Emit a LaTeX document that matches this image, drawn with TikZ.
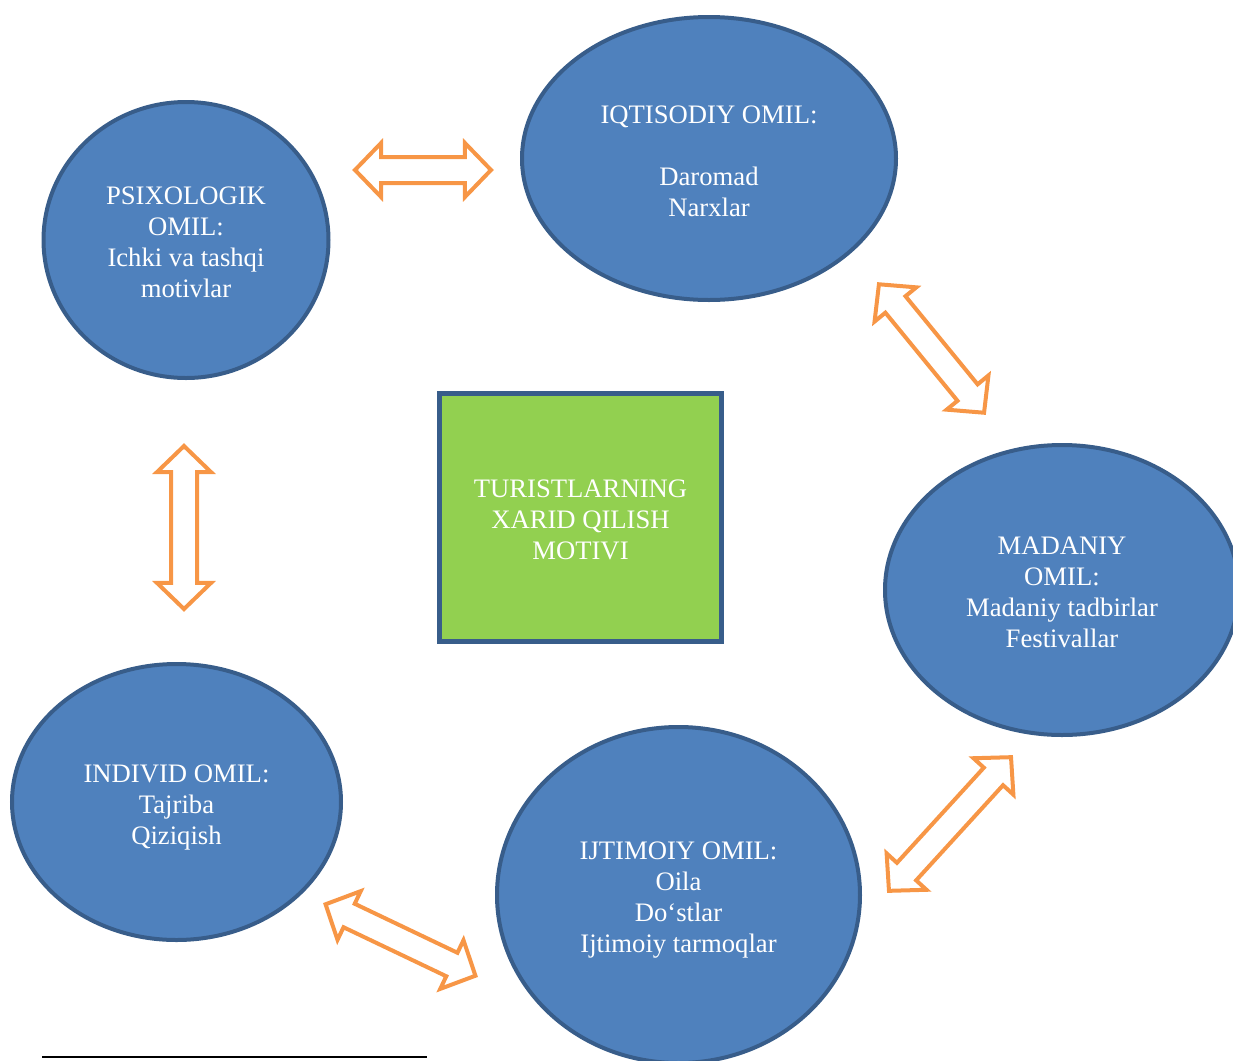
\documentclass[tikz,border=0pt]{standalone}
\usepackage{fontspec}
\setmainfont{Liberation Serif}
\usetikzlibrary{shapes.geometric,shapes.arrows}

\definecolor{factorblue}{HTML}{4F81BD}
\definecolor{factorline}{HTML}{385D8A}
\definecolor{motivegreen}{HTML}{92D050}
\definecolor{linkorange}{HTML}{F79646}

\tikzstyle{labeltext}=[text=white,align=center,font=\fontsize{20}{23.25}\selectfont]
\tikzstyle{factor}=[ellipse,draw=factorline,fill=factorblue,line width=3pt,inner sep=0pt,labeltext]
\tikzstyle{motive}=[rectangle,draw=factorline,fill=motivegreen,line width=3.75pt,inner sep=0pt,labeltext]
\tikzstyle{link}=[double arrow,draw=linkorange,line width=3pt,inner xsep=0pt,inner ysep=8.25pt,double arrow head extend=10.5pt,double arrow tip angle=92]
\newcommand{\pxscale}{0.75pt}
% same height above and depth below for every text block
\newcommand{\evenlines}[1]{\rule{0pt}{21.6pt}#1\rule[-5pt]{0pt}{0pt}}

\begin{document}
\begin{tikzpicture}[x=\pxscale, y=-\pxscale]
    \useasboundingbox (0,0) rectangle (1233,1061);
    \clip (0,0) rectangle (1233,1061);
    % First we draw the factors round the motive
    \node[factor, minimum width=213.75pt, minimum height=207pt] (psix) at (186,240)
        {\evenlines{PSIXOLOGIK\\OMIL:\\Ichki va tashqi\\motivlar}};
    \node[factor, minimum width=280.5pt, minimum height=212.25pt] (iqt) at (709,158.5)
        {\evenlines{IQTISODIY OMIL:\\[23.25pt]Daromad\\Narxlar}};
    \node[factor, minimum width=265.5pt, minimum height=217.5pt] (mad) at (1062,590)
        {\evenlines{MADANIY\\OMIL:\\Madaniy tadbirlar\\Festivallar}};
    \node[factor, minimum width=246.75pt, minimum height=207pt] (ind) at (176.5,802)
        {\evenlines{INDIVID OMIL:\\Tajriba\\Qiziqish}};
    \node[factor, minimum width=272.25pt, minimum height=252pt] (ijt) at (678.5,895)
        {\evenlines{IJTIMOIY OMIL:\\Oila\\Do‘stlar\\Ijtimoiy tarmoqlar}};
    \node[motive, minimum width=211.5pt, minimum height=186pt] (motiv) at (580.5,517.5)
        {\evenlines{TURISTLARNING\\XARID QILISH\\MOTIVI}};
    % Two-way arrows between the factors
    \foreach \pos/\ang/\len/\name in {{(423,170)/0/102pt/psixiqt}, {(931.5,348.5)/-50.7/124.5pt/iqtmad},
        {(184,527.5)/90/122.25pt/psixind}, {(400.5,940)/-25.5/124.5pt/indijt}, {(950,824)/47.6/135.75pt/ijtmad}}
        \node[link, rotate=\ang, minimum height=\len] (\name) at \pos {};
    % Footnote rule
    \coordinate (rulestart) at (42,1057);
    \coordinate (ruleend) at (427,1057);
    \draw[line width=1.5pt] (rulestart) -- (ruleend);
\end{tikzpicture}
\end{document}
